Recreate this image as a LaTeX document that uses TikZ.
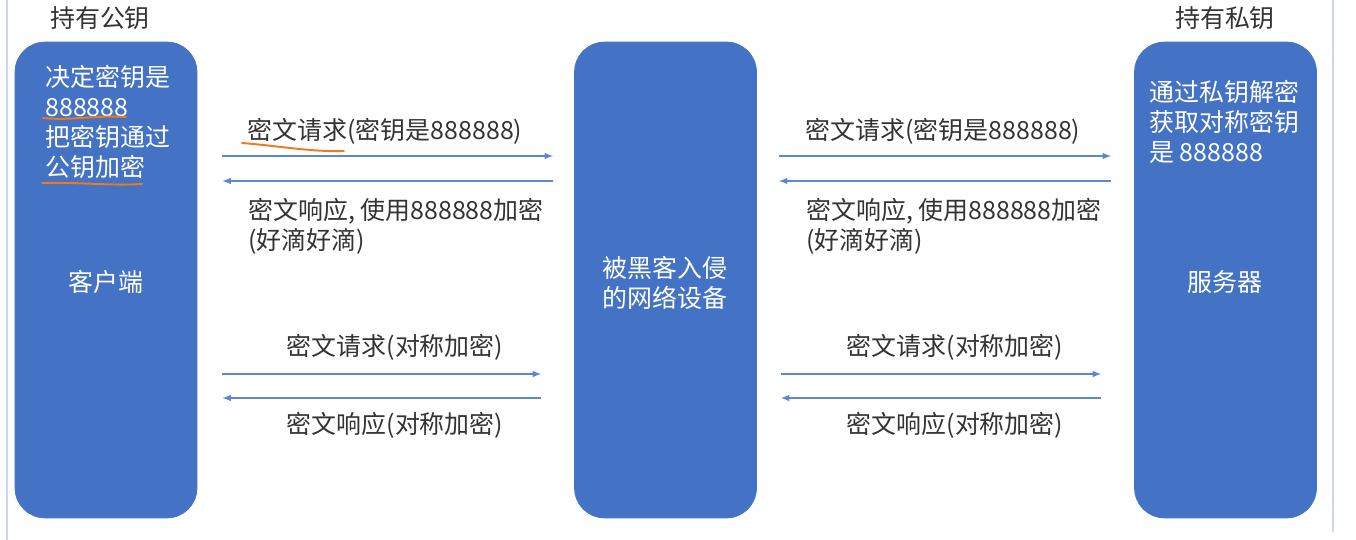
\documentclass[tikz,border=0pt]{standalone}
\usepackage{fontspec}
\setmainfont{Noto Sans CJK SC}
\usetikzlibrary{calc, arrows}
\definecolor{boxblue}{HTML}{4472C4}
\definecolor{penorange}{HTML}{F0781E}
\definecolor{framelight}{HTML}{CAD8F6}

\begin{document}
\begin{tikzpicture}[x = 0.02cm, y = -0.02cm,
    box/.style = {draw = boxblue, fill = boxblue, rounded corners = 0.6cm, minimum width = 3.64cm, minimum height = 9.52cm, inner sep = 0pt},
    msg/.style = {draw = boxblue!85, line width = 0.7pt, -latex},
    lbl/.style = {text = black!80, inner sep = 0pt, font = \fontsize{14.2}{17}\selectfont},
    intext/.style = {text = white, inner sep = 0pt, font = \fontsize{14.2}{17}\selectfont},
    pen/.style = {draw = penorange, line width = 1.1pt, line cap = round}]
    \def\rowA{156}
    \def\rowB{181}
    \def\rowC{374}
    \def\rowD{398}

    \useasboundingbox (0,0) rectangle (1356,540);

    %frame of the screenshot
    \draw[framelight, line width = 0.6pt] (7,0) -- (7,540);
    \draw[framelight, line width = 0.6pt] (1333,0) -- (1333,532);

    %boxes
    \node[box] (client) at (106,280) {};
    \node[box] (hacker) at (665.5,280) {};
    \node[box] (server) at (1225.5,280) {};

    %headers
    \node[lbl] (pubkey) at (100,18) {持有公钥};
    \node[lbl] (privkey) at (1225,18) {持有私钥};

    %texts in the boxes
    \node[intext, anchor = west, align = left] (clientnote) at (45,122) {决定密钥是\\888888\\把密钥通过\\公钥加密};
    \node[intext] (clientname) at (106,282) {客户端};
    \node[intext, align = center] (hackername) at (665,283) {被黑客入侵\\的网络设备};
    \node[intext, anchor = west, align = left] (servernote) at (1149,122) {通过私钥解密\\获取对称密钥\\是 888888};
    \node[intext] (servername) at (1225,282) {服务器};

    %arrows client <-> hacker
    \draw[msg] ([xshift = 0.5cm]client.east |- 0,\rowA) -- ([xshift = -0.42cm]hacker.west |- 0,\rowA);
    \draw[msg] ([xshift = -0.42cm]hacker.west |- 0,\rowB) -- ([xshift = 0.5cm]client.east |- 0,\rowB);
    \draw[msg] ([xshift = 0.5cm]client.east |- 0,\rowC) -- ([xshift = -0.66cm]hacker.west |- 0,\rowC);
    \draw[msg] ([xshift = -0.66cm]hacker.west |- 0,\rowD) -- ([xshift = 0.5cm]client.east |- 0,\rowD);

    %arrows hacker <-> server
    \draw[msg] ([xshift = 0.44cm]hacker.east |- 0,\rowA) -- ([xshift = -0.46cm]server.west |- 0,\rowA);
    \draw[msg] ([xshift = -0.46cm]server.west |- 0,\rowB) -- ([xshift = 0.44cm]hacker.east |- 0,\rowB);
    \draw[msg] ([xshift = 0.48cm]hacker.east |- 0,\rowC) -- ([xshift = -0.66cm]server.west |- 0,\rowC);
    \draw[msg] ([xshift = -0.66cm]server.west |- 0,\rowD) -- ([xshift = 0.48cm]hacker.east |- 0,\rowD);

    %labels
    \node[lbl] (reqkeyL) at (385,131) {密文请求(密钥是888888)};
    \node[lbl, anchor = west, align = left] (respkeyL) at (248,226) {密文响应, 使用888888加密\\(好滴好滴)};
    \node[lbl] (reqsymL) at (395,347) {密文请求(对称加密)};
    \node[lbl] (respsymL) at (395,425) {密文响应(对称加密)};
    \node[lbl] (reqkeyR) at (943,131) {密文请求(密钥是888888)};
    \node[lbl, anchor = west, align = left] (respkeyR) at (806,226) {密文响应, 使用888888加密\\(好滴好滴)};
    \node[lbl] (reqsymR) at (955,347) {密文请求(对称加密)};
    \node[lbl] (respsymR) at (955,425) {密文响应(对称加密)};

    %pen marks
    \draw[pen] (43,118) .. controls (70,121) and (95,115) .. (126,117);
    \draw[pen] (42,183) .. controls (80,182) and (110,186) .. (142,184);
    \draw[pen] (242,143) .. controls (280,146) and (310,152) .. (344,151);
\end{tikzpicture}
\end{document}
